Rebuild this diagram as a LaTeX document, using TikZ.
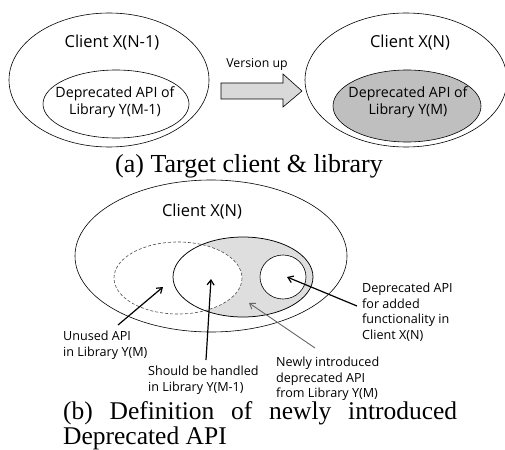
\documentclass[tikz,border=0pt]{standalone}
\usepackage{fontspec}
\setmainfont{Liberation Serif}
\newfontfamily\labfont{Open Sans}
\usetikzlibrary{arrows.meta}
\begin{document}
\begin{tikzpicture}[x=1pt,y=-1pt,
  thinline/.style={line width=0.6pt},
  clientlabel/.style={font=\labfont\fontsize{16.5}{19}\selectfont, inner sep=0pt},
  biglabel/.style={font=\labfont\fontsize{14.2}{17}\selectfont, align=center, inner sep=0pt},
  smalllabel/.style={font=\labfont\fontsize{12.6}{15.5}\selectfont, align=left, inner sep=0pt, anchor=north west},
  caption/.style={font=\fontsize{26}{26}\selectfont, inner sep=0pt},
  captionb/.style={font=\fontsize{25.5}{25.5}\selectfont, inner sep=0pt},
  ptr/.style={line width=1.2pt, -{Straight Barb[length=5pt,width=7pt]}},
  grayptr/.style={line width=0.9pt, draw=black!60, -{Straight Barb[length=5pt,width=7pt]}}]
\useasboundingbox (0,0) rectangle (505,449);

% ---------- (a) ----------
\draw[thinline] (109,80) ellipse [x radius=100, y radius=67];
\draw[thinline] (116,104) ellipse [x radius=73, y radius=34];
\node[clientlabel] (cl1) at (112,43) {Client X(N-1)};
\node[biglabel] (dl1) at (115,102) {Deprecated API of\\Library Y(M-1)};

\draw[thinline, fill=black!15] (221,83) -- (283,83) -- (283,74) -- (302,91) -- (283,107) -- (283,99) -- (221,99) -- cycle;
\node[font=\labfont\fontsize{12.3}{14}\selectfont, inner sep=0pt] (vu) at (257,64) {Version up};

\draw[thinline] (406,80) ellipse [x radius=101, y radius=67];
\draw[thinline, fill=black!25] (407,106) ellipse [x radius=74, y radius=36];
\node[clientlabel] (cl2) at (410,43) {Client X(N)};
\node[biglabel] (dl2) at (408,102) {Deprecated API of\\Library Y(M)};

\node[caption, anchor=base] (capa) at (249,172) {(a) Target client \& library};

% ---------- (b) ----------
\draw[thinline] (211,256) ellipse [x radius=136, y radius=76];
\node[clientlabel] (cl3) at (202,212) {Client X(N)};

\fill[black!13] (243,277) ellipse [x radius=70, y radius=40];
\begin{scope}
  \clip (243,277) ellipse [x radius=70, y radius=40];
  \fill[white] (178,278) ellipse [x radius=64, y radius=36];
\end{scope}
\draw[thinline, draw=black!70, dashed, dash pattern=on 3pt off 2pt] (178,278) ellipse [x radius=64, y radius=36];
\draw[line width=0.75pt] (243,277) ellipse [x radius=70, y radius=40];
\draw[thinline, fill=white] (283,277) ellipse [x radius=23, y radius=22];

\coordinate (t1) at (163,287);
\coordinate (t2) at (211,279);
\coordinate (t3) at (249,303);
\coordinate (t4) at (287,277);

\node[smalllabel] (l1) at (63,331) {Unused API\\in Library Y(M)};
\node[smalllabel] (l2) at (148,366) {Should be handled\\in Library Y(M-1)};
\node[smalllabel] (l3) at (276,357) {Newly introduced\\deprecated API\\from Library Y(M)};
\node[smalllabel] (l4) at (362,283) {Deprecated API\\for added\\functionality in\\Client X(N)};

\coordinate (s1) at (118,325);
\coordinate (s2) at (206,360);
\coordinate (s3) at (315,348);
\coordinate (s4) at (357,306);

\draw[ptr] (s1) -- (t1);
\draw[ptr] (s2) -- (t2);
\draw[grayptr] (s3) -- (t3);
\draw[ptr] (s4) -- (t4);

\node[captionb, anchor=base west] (capb1) at (63,419) {\makebox[394pt][s]{(b) Definition of newly introduced}};
\node[captionb, anchor=base west] (capb2) at (63,444) {Deprecated API};
\end{tikzpicture}
\end{document}
